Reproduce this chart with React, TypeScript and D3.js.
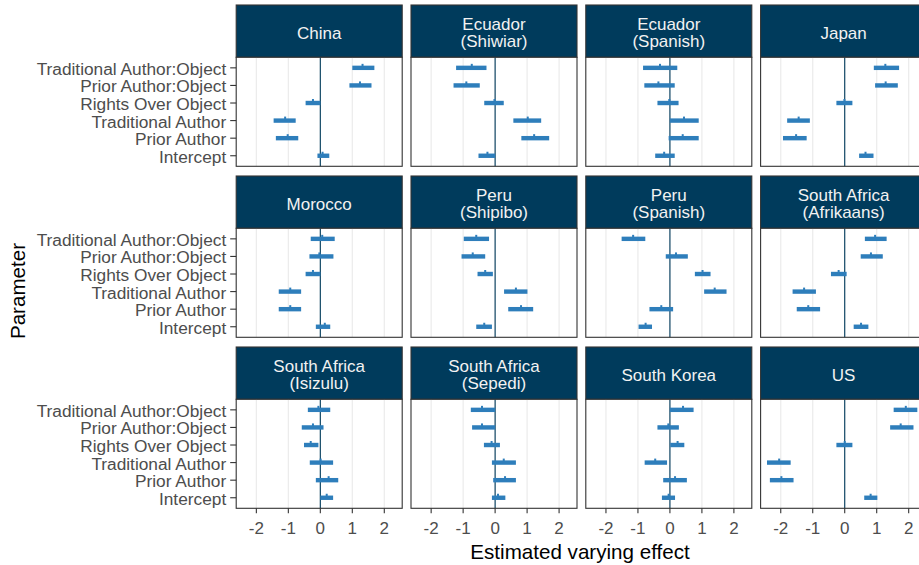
import React from "react";
import * as d3 from "d3";

const panelLabels: string[][] = [
  ["China"], ["Ecuador", "(Shiwiar)"], ["Ecuador", "(Spanish)"], ["Japan"],
  ["Morocco"], ["Peru", "(Shipibo)"], ["Peru", "(Spanish)"], ["South Africa", "(Afrikaans)"],
  ["South Africa", "(Isizulu)"], ["South Africa", "(Sepedi)"], ["South Korea"], ["US"],
];

const parameters = [
  "Traditional Author:Object",
  "Prior Author:Object",
  "Rights Over Object",
  "Traditional Author",
  "Prior Author",
  "Intercept",
];

const xTicks = [-2, -1, 0, 1, 2];

// rows: panels; columns: parameters (same order as `parameters`)
const lowerBound = [
  [1.0, 0.91, -0.46, -1.46, -1.39, -0.09],
  [-1.22, -1.3, -0.34, 0.57, 0.82, -0.52],
  [-0.84, -0.8, -0.39, 0.0, -0.04, -0.46],
  [0.91, 0.95, -0.26, -1.8, -1.93, 0.45],
  [-0.3, -0.34, -0.46, -1.3, -1.3, -0.14],
  [-0.98, -1.05, -0.55, 0.28, 0.41, -0.59],
  [-1.51, -0.13, 0.78, 1.07, -0.64, -0.98],
  [0.63, 0.5, -0.43, -1.63, -1.5, 0.28],
  [-0.39, -0.58, -0.51, -0.33, -0.14, 0.0],
  [-0.76, -0.72, -0.35, -0.1, -0.06, -0.1],
  [0.0, -0.39, 0.01, -0.79, -0.21, -0.25],
  [1.53, 1.42, -0.26, -2.43, -2.34, 0.61],
];

const pointEstimate = [
  [1.32, 1.24, -0.23, -1.1, -1.02, 0.07],
  [-0.73, -0.9, -0.02, 1.02, 1.22, -0.24],
  [-0.31, -0.36, -0.02, 0.44, 0.4, -0.18],
  [1.27, 1.28, -0.01, -1.44, -1.52, 0.65],
  [0.06, -0.03, -0.23, -0.94, -0.94, 0.14],
  [-0.59, -0.7, -0.31, 0.65, 0.81, -0.34],
  [-1.15, 0.19, 1.02, 1.4, -0.27, -0.76],
  [0.95, 0.82, -0.19, -1.27, -1.14, 0.51],
  [-0.06, -0.23, -0.3, 0.01, 0.26, 0.2],
  [-0.41, -0.41, -0.11, 0.27, 0.31, 0.09],
  [0.41, -0.05, 0.24, -0.46, 0.16, -0.04],
  [1.91, 1.75, 0.0, -2.05, -1.98, 0.81],
];

const upperBound = [
  [1.69, 1.6, 0.0, -0.77, -0.69, 0.28],
  [-0.27, -0.48, 0.27, 1.44, 1.69, 0.0],
  [0.23, 0.15, 0.27, 0.9, 0.9, 0.15],
  [1.7, 1.66, 0.24, -1.09, -1.19, 0.9],
  [0.45, 0.41, 0.0, -0.6, -0.6, 0.31],
  [-0.19, -0.31, -0.07, 1.01, 1.19, -0.1],
  [-0.77, 0.56, 1.27, 1.77, 0.1, -0.56],
  [1.31, 1.19, 0.06, -0.9, -0.77, 0.74],
  [0.31, 0.1, -0.06, 0.4, 0.56, 0.4],
  [0.0, 0.0, 0.15, 0.65, 0.65, 0.32],
  [0.74, 0.28, 0.45, -0.09, 0.53, 0.16],
  [2.27, 2.15, 0.24, -1.69, -1.6, 1.02],
];

const W = 919;
const H = 565;
const FONT = "'Liberation Sans', Arial, sans-serif";
const STRIP = "#003B5C";
const BAR = "#2E7EBB";
const GRID = "#EBEBEB";
const BORDER = "#333333";
const AXIS_TEXT = "#4D4D4D";

const colLeft = 236.2;
const colPitch = 174.8;
const panelW = 166;
const rowTop = 5;
const rowPitch = 171;
const stripH = 52.3;
const bodyH = 109;

export default function App() {
  const x = d3.scaleLinear().domain([-2.63, 2.56]).range([0, panelW]);
  const y = d3.scalePoint<string>().domain(parameters).range([0, bodyH]).padding(0.6);

  return (
    <svg
      width={W}
      height={H}
      style={{ position: "absolute", left: 0, top: 0, display: "block", background: "#fff" }}
      fontFamily={FONT}
    >
      <rect x={0} y={0} width={W} height={H} fill="#fff" />
      {panelLabels.map((lab, i) => {
        const col = i % 4;
        const row = Math.floor(i / 4);
        const px = colLeft + col * colPitch;
        const sy = rowTop + row * rowPitch;
        const by = sy + stripH;
        const cx = px + panelW / 2;
        const cy = sy + stripH / 2 + 2;
        return (
          <g key={i}>
            <rect x={px} y={sy} width={panelW} height={stripH} fill={STRIP} stroke={BORDER} strokeWidth={1.1} />
            {lab.length === 1 ? (
              <text x={cx} y={cy} textAnchor="middle" dominantBaseline="central" fill="#F2F2F2" fontSize={17}>
                {lab[0]}
              </text>
            ) : (
              lab.map((t, j) => (
                <text
                  key={j}
                  x={cx}
                  y={cy + (j === 0 ? -8.7 : 8.7)}
                  textAnchor="middle"
                  dominantBaseline="central"
                  fill="#F2F2F2"
                  fontSize={17}
                >
                  {t}
                </text>
              ))
            )}
            <g transform={`translate(${px},${by})`}>
              <rect x={0} y={0} width={panelW} height={bodyH} fill="#fff" />
              {xTicks.map((t) => (
                <line key={t} x1={x(t)} x2={x(t)} y1={0} y2={bodyH} stroke={GRID} strokeWidth={1.2} />
              ))}
              <line x1={x(0)} x2={x(0)} y1={0} y2={bodyH} stroke={STRIP} strokeWidth={1.1} />
              {parameters.map((p, k) => {
                const yy = y(p) as number;
                const lo = lowerBound[i][k];
                const hi = upperBound[i][k];
                const m = pointEstimate[i][k];
                return (
                  <g key={p}>
                    <rect x={x(lo)} y={yy - 2.2} width={x(hi) - x(lo)} height={4.4} fill={BAR} />
                    <rect x={x(m) - 1} y={yy - 4} width={2} height={4} fill={BAR} />
                  </g>
                );
              })}
              <rect x={0} y={0} width={panelW} height={bodyH} fill="none" stroke={BORDER} strokeWidth={1.1} />
              {col === 0 &&
                parameters.map((p) => (
                  <g key={p}>
                    <line x1={-6} x2={0} y1={y(p)} y2={y(p)} stroke={BORDER} strokeWidth={1.1} />
                    <text
                      x={-10}
                      y={(y(p) as number) + 1}
                      textAnchor="end"
                      dominantBaseline="central"
                      fill={AXIS_TEXT}
                      fontSize={17.3}
                    >
                      {p}
                    </text>
                  </g>
                ))}
              {row === 2 &&
                xTicks.map((t) => (
                  <g key={t}>
                    <line x1={x(t)} x2={x(t)} y1={bodyH} y2={bodyH + 5} stroke={BORDER} strokeWidth={1.1} />
                    <text
                      x={x(t)}
                      y={bodyH + 20}
                      textAnchor="middle"
                      dominantBaseline="central"
                      fill={AXIS_TEXT}
                      fontSize={17}
                    >
                      {t}
                    </text>
                  </g>
                ))}
            </g>
          </g>
        );
      })}
      <text x={580} y={551} textAnchor="middle" dominantBaseline="central" fontSize={20.6} fill="#000">
        Estimated varying effect
      </text>
      <text
        transform={`translate(17,291) rotate(-90)`}
        textAnchor="middle"
        dominantBaseline="central"
        fontSize={20.6}
        fill="#000"
      >
        Parameter
      </text>
    </svg>
  );
}
